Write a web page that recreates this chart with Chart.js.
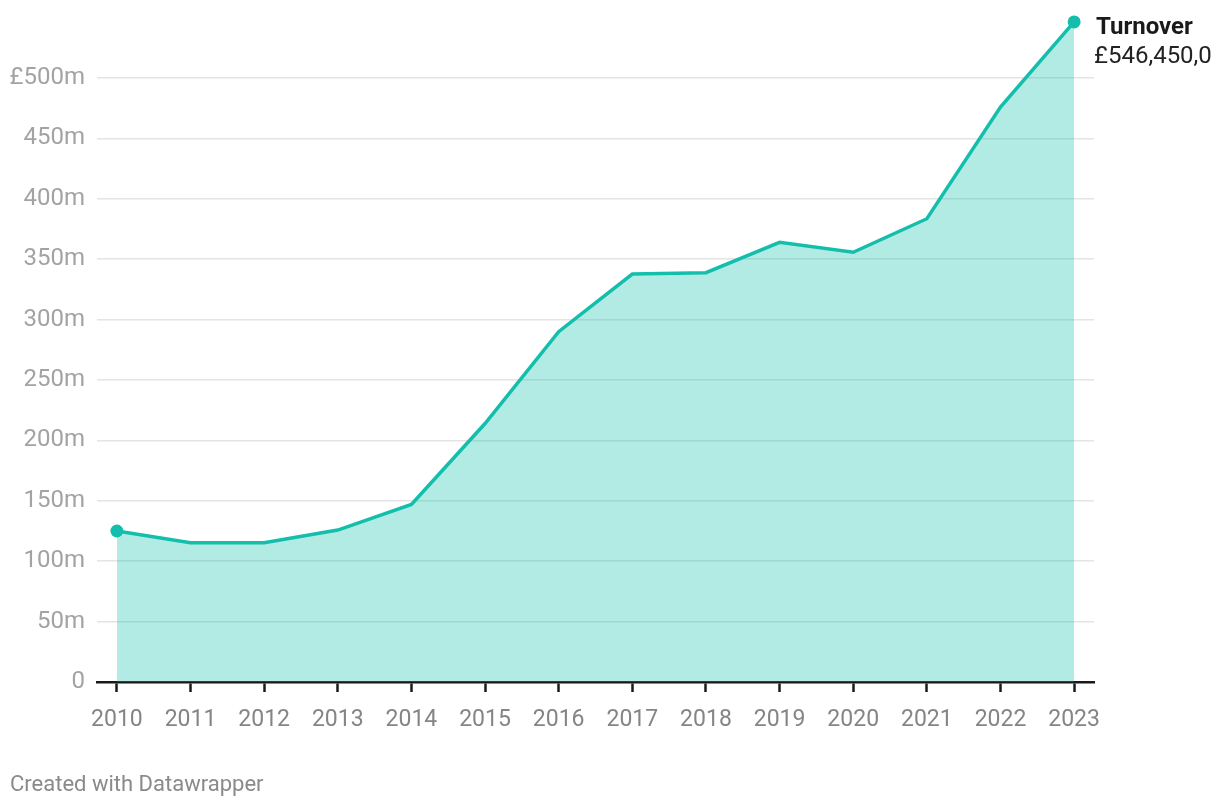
<!DOCTYPE html>
<html>
<head>
<meta charset="utf-8">
<script src="https://cdn.jsdelivr.net/npm/chart.js@4.4.1/dist/chart.umd.min.js"></script>
<style>
  html, body { margin: 0; padding: 0; background: #fff; }
  #wrap { position: relative; width: 1220px; height: 808px; }
  #footer { position: absolute; left: 10px; top: 771px; font: 22px Roboto, sans-serif; color: #8a8a8a; }
</style>
</head>
<body>
<div id="wrap">
  <canvas id="turnoverChart" width="1220" height="808"></canvas>
  <div id="footer">Created with Datawrapper</div>
</div>
<script>
// Turnover per year, in £m
var years = [2010, 2011, 2012, 2013, 2014, 2015, 2016, 2017, 2018, 2019, 2020, 2021, 2022, 2023];
var turnover = [125, 115.3, 115.3, 125.8, 147, 214, 290, 337.7, 338.8, 364, 355.7, 383.5, 476, 546.45];
var yTicks = [0, 50, 100, 150, 200, 250, 300, 350, 400, 450, 500];
var seriesName = 'Turnover';
var lastLabel = '£546,450,000';

var teal = 'rgb(20, 190, 172)';

var points = years.map(function (y, i) { return { x: y, y: turnover[i] }; });
var radii = years.map(function (y, i) { return (i === 0 || i === years.length - 1) ? 6.5 : 0; });

// label next to the last point (cut off at the right like the original)
var endLabel = {
    id: 'endLabel',
    afterDatasetsDraw: function (chart) {
        var c = chart.ctx;
        c.save();
        c.beginPath();
        c.rect(1090, 0, 121, 80);
        c.clip();
        c.textAlign = 'left';
        c.textBaseline = 'alphabetic';
        c.fillStyle = '#1a1a1a';
        c.font = 'bold 24px Roboto, sans-serif';
        c.fillText(seriesName, 1096, 34);
        c.fillStyle = '#222';
        c.font = '24px Roboto, sans-serif';
        c.fillText(lastLabel, 1094, 63);
        c.restore();
    }
};

var ctx = document.getElementById('turnoverChart').getContext('2d');
var chart = new Chart(ctx, {
    type: 'line',
    data: {
        datasets: [{
            label: seriesName,
            data: points,
            borderColor: teal,
            borderWidth: 3.5,
            backgroundColor: 'rgba(0, 188, 165, 0.3)',
            fill: 'origin',
            clip: false,
            pointRadius: radii,
            pointBackgroundColor: teal,
            pointBorderWidth: 0,
            tension: 0
        }]
    },
    options: {
        responsive: false,
        animation: false,
        layout: { padding: { top: 17.6, right: 126, bottom: 66, left: 0 } },
        plugins: {
            legend: { display: false },
            tooltip: { enabled: false }
        },
        scales: {
            x: {
                type: 'linear',
                min: 2009.73,
                max: 2023.27,
                afterBuildTicks: function (scale) {
                    scale.ticks = years.map(function (y) { return { value: y }; });
                },
                afterFit: function (scale) {
                    scale.height = 60;
                    scale.paddingLeft = 0;
                    scale.paddingRight = 0;
                },
                grid: {
                    drawOnChartArea: false,
                    drawTicks: true,
                    tickLength: 10,
                    tickWidth: 2.5,
                    tickColor: '#1a1a1a'
                },
                border: { display: true, color: '#1a1a1a', width: 2.5 },
                ticks: {
                    padding: 14,
                    color: '#858585',
                    font: { family: 'Roboto', size: 23 },
                    maxRotation: 0,
                    callback: function (v) { return String(v); }
                }
            },
            y: {
                min: 0,
                max: 550,
                afterBuildTicks: function (scale) {
                    scale.ticks = yTicks.map(function (v) { return { value: v }; });
                },
                afterFit: function (scale) {
                    scale.width = 97;
                    scale.paddingTop = 0;
                    scale.paddingBottom = 0;
                },
                grid: {
                    color: '#e4e4e4',
                    lineWidth: 1.5,
                    drawTicks: false
                },
                border: { display: false },
                ticks: {
                    padding: 12,
                    color: '#a3a3a3',
                    font: { family: 'Roboto', size: 24 },
                    callback: function (v) { return v === 500 ? '£500m' : (v === 0 ? '0' : v + 'm'); }
                }
            }
        }
    },
    plugins: [endLabel]
});
</script>
</body>
</html>
